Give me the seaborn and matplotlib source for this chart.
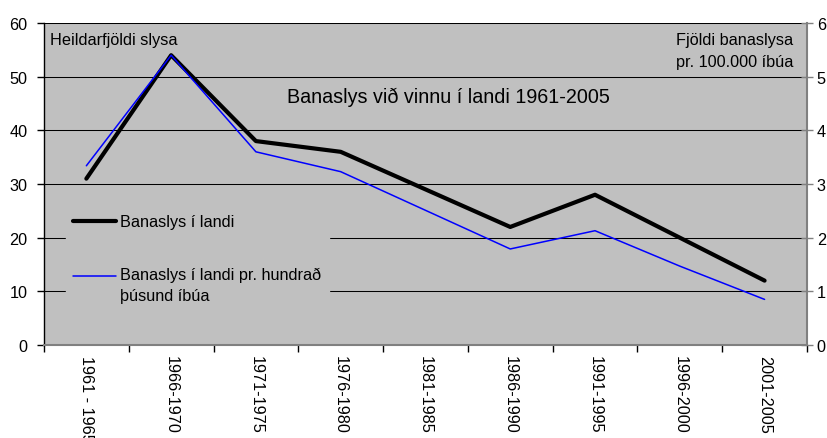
import matplotlib
matplotlib.use("Agg")
import matplotlib.pyplot as plt
import seaborn as sns
from matplotlib.ticker import FixedLocator
from matplotlib.legend_handler import HandlerLine2D

sns.set_theme(style="white")
plt.rcParams["font.family"] = ["Liberation Sans", "DejaVu Sans"]
plt.rcParams["text.color"] = "black"
plt.rcParams["xtick.color"] = "black"
plt.rcParams["ytick.color"] = "black"

# Data
periods = ["1961 - 1965", "1966-1970", "1971-1975", "1976-1980", "1981-1985",
           "1986-1990", "1991-1995", "1996-2000", "2001-2005"]
total_deaths = [31, 54, 38, 36, 29, 22, 28, 20, 12]
deaths_per_100k = [3.34, 5.40, 3.60, 3.23, 2.51, 1.79, 2.13, 1.47, 0.85]

GRAY_BG = "#C0C0C0"
FS = 11.7


class FirstLineHandler(HandlerLine2D):
    # put the legend line next to the first line of a two-line label
    def create_artists(self, legend, orig_handle, xdescent, ydescent, width, height, fontsize, trans):
        shift = 2 * 6.5
        return super().create_artists(legend, orig_handle, xdescent, ydescent - shift,
                                      width, height, fontsize, trans)


fig = plt.figure(figsize=(8.28, 4.39), dpi=100)
ax = fig.add_axes([0.0531, 0.2118, 0.9746 - 0.0531, 0.9453 - 0.2118])
ax.set_facecolor(GRAY_BG)
ax2 = ax.twinx()

sns.lineplot(x=periods, y=total_deaths, ax=ax, color="black", linewidth=3,
             sort=False, label="Banaslys í landi", legend=False)
sns.lineplot(x=periods, y=deaths_per_100k, ax=ax2, color="#0000FF", linewidth=1.1,
             sort=False, label="Banaslys í landi pr. hundrað\nþúsund íbúa", legend=False)

ax.set_xlim(-0.5, len(periods) - 0.5)
ax.set_ylim(0, 60)
ax2.set_ylim(0, 6)
ax.set_yticks(range(0, 61, 10))
ax2.set_yticks(range(0, 7))
ax.yaxis.grid(True, color="black", linewidth=0.75)
ax.set_axisbelow(True)
ax.set_xlabel("")
ax.set_ylabel("")
ax2.set_ylabel("")

# x ticks: labels at categories, tick marks between them
ax.xaxis.set_minor_locator(FixedLocator([i + 0.5 for i in range(-1, len(periods))]))
ax.tick_params(axis="x", which="major", length=0, pad=7, labelsize=FS,
               labelrotation=270)
ax.tick_params(axis="x", which="minor", length=5, width=1, color="black",
               direction="out", bottom=True)
for lbl in ax.get_xticklabels():
    lbl.set_va("top")
    lbl.set_ha("center")
ax.tick_params(axis="y", which="major", length=5, width=1, color="black",
               direction="out", left=True, labelsize=FS, pad=7)
ax2.tick_params(axis="y", which="major", length=8, width=1, color="#808080",
                direction="inout", right=True, labelsize=FS, pad=3)

for sp in ax.spines.values():
    sp.set_visible(False)
for sp in ax2.spines.values():
    sp.set_visible(False)
ax.spines["left"].set_visible(True)
ax.spines["left"].set_color("black")
ax.spines["left"].set_linewidth(1)
ax.spines["bottom"].set_visible(True)
ax.spines["bottom"].set_color("#808080")
ax.spines["bottom"].set_linewidth(1.5)
ax2.spines["right"].set_visible(True)
ax2.spines["right"].set_color("#808080")
ax2.spines["right"].set_linewidth(1.5)

fig.text(50 / 828, 1 - 40 / 439, "Heildarfjöldi slysa", fontsize=FS, va="center", ha="left")
fig.text(793 / 828, 1 - 40 / 439, "Fjöldi banaslysa", fontsize=FS, va="center", ha="right")
fig.text(793 / 828, 1 - 62 / 439, "pr. 100.000 íbúa", fontsize=FS, va="center", ha="right")
fig.text(448 / 828, 1 - 97 / 439, "Banaslys við vinnu í landi 1961-2005", fontsize=14.2,
         va="center", ha="center")

h1, l1 = ax.get_legend_handles_labels()
h2, l2 = ax2.get_legend_handles_labels()
leg = ax2.legend(h1 + h2, l1 + l2, loc="upper left",
                 bbox_to_anchor=((66 - 44) / 763, (346 - 208) / 322),
                 frameon=True, facecolor=GRAY_BG, edgecolor=GRAY_BG, framealpha=1,
                 fontsize=FS, handlelength=2.6, handletextpad=0.3, labelspacing=2.3,
                 borderpad=0.45, borderaxespad=0, fancybox=False,
                 handler_map={h2[0]: FirstLineHandler()})
leg.get_texts()[1].set_linespacing(1.5)

fig.savefig("out.png", dpi=100, facecolor="white")
